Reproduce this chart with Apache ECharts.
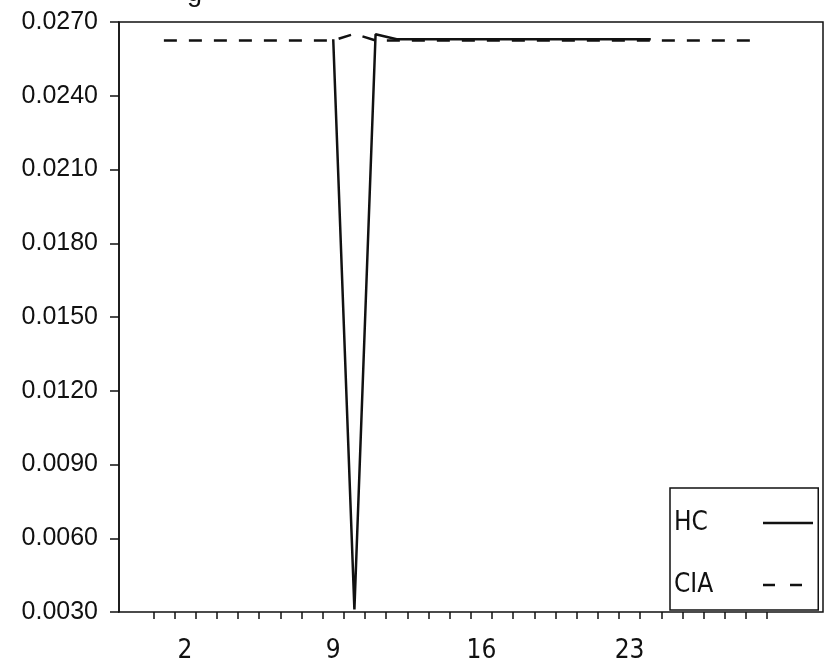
<!DOCTYPE html>
<html>
<head>
<meta charset="utf-8">
<script src="https://cdn.jsdelivr.net/npm/echarts@6/dist/echarts.min.js"></script>
<style>
  html, body { margin: 0; padding: 0; background: #fff; }
  #chart-container { width: 833px; height: 667px; }
</style>
</head>
<body>
<div id="chart-container"></div>
<script>
  // categories 1..29
  var categories = ['1', '2', '3', '4', '5', '6', '7', '8', '9', '10', '11', '12', '13', '14', '15',
    '16', '17', '18', '19', '20', '21', '22', '23', '24', '25', '26', '27', '28', '29'];

  var hcValues = [null, null, null, null, null, null, null, null, 0.0263, 0.0031, 0.0265, 0.0263, 0.0263,
    0.0263, 0.0263, 0.0263, 0.0263, 0.0263, 0.0263, 0.0263, 0.0263, 0.0263, 0.0263, 0.0263,
    null, null, null, null, null];

  var ciaValues = [0.02625, 0.02625, 0.02625, 0.02625, 0.02625, 0.02625, 0.02625, 0.02625, 0.02625,
    0.02652, 0.02625, 0.02625, 0.02625, 0.02625, 0.02625, 0.02625, 0.02625, 0.02625, 0.02625,
    0.02625, 0.02625, 0.02625, 0.02625, 0.02625, 0.02625, 0.02625, 0.02625, 0.02625, 0.02625];

  var yMin = 0.0030, yMax = 0.0270, yStep = 0.0030;

  var narrow = "'Liberation Sans Narrow', 'DejaVu Sans Condensed', sans-serif";
  var ink = '#111';

  var dom = document.getElementById('chart-container');
  var myChart = echarts.init(dom, null, { renderer: 'canvas' });

  var option = {
    animation: false,
    backgroundColor: '#fff',
    title: {
      text: 'g',
      left: 182,
      top: -25,
      textStyle: { fontFamily: 'Liberation Sans', fontSize: 27, fontWeight: 'normal', color: ink }
    },
    grid: [
      // frame
      { left: 119, right: 10, top: 22, bottom: 55, show: true, borderColor: ink, borderWidth: 1.5 },
      // data area
      { left: 153.3, right: 65.8, top: 22, bottom: 55 }
    ],
    xAxis: [
      { gridIndex: 0, type: 'value', min: 0, max: 1, show: false },
      {
        gridIndex: 1,
        type: 'category',
        data: categories,
        boundaryGap: true,
        axisLine: { show: false },
        axisTick: {
          show: true, inside: false, length: 7, interval: 0,
          lineStyle: { color: ink, width: 1.5 }
        },
        axisLabel: {
          interval: function (index) { return (index - 1) % 7 === 0; },
          margin: 26,
          fontFamily: narrow,
          fontSize: 26,
          color: ink
        },
        splitLine: { show: false }
      }
    ],
    yAxis: [
      {
        gridIndex: 0,
        type: 'value',
        min: yMin,
        max: yMax,
        interval: yStep,
        axisLine: { show: true, lineStyle: { color: ink, width: 1.5 } },
        axisTick: { show: true, inside: false, length: 9, lineStyle: { color: ink, width: 1.5 } },
        axisLabel: {
          margin: 21,
          fontFamily: 'Liberation Sans',
          fontSize: 25,
          color: ink,
          formatter: function (v) { return v.toFixed(4); }
        },
        splitLine: { show: false }
      },
      { gridIndex: 1, type: 'value', min: yMin, max: yMax, show: false }
    ],
    legend: {
      orient: 'vertical',
      left: 670,
      top: 488,
      padding: [22, 4, 12, 4],
      itemGap: 36,
      itemWidth: 50,
      itemHeight: 20,
      align: 'right',
      borderColor: ink,
      borderWidth: 1.5,
      backgroundColor: '#fff',
      itemStyle: { opacity: 0 },
      formatter: function (name) { return '{n|' + name + '}'; },
      textStyle: {
        fontFamily: narrow, fontSize: 26, color: ink,
        rich: { n: { width: 84, align: 'left', fontFamily: narrow, fontSize: 26, color: ink, lineHeight: 24 } }
      },
      data: [
        { name: 'HC', lineStyle: { type: 'solid', width: 2.5 } },
        { name: 'CIA', lineStyle: { type: [12, 15], width: 2.5 } }
      ]
    },
    series: [
      {
        name: 'HC',
        type: 'line',
        xAxisIndex: 1,
        yAxisIndex: 1,
        data: hcValues,
        symbol: 'none',
        connectNulls: false,
        itemStyle: { color: ink },
        lineStyle: { color: ink, width: 2.5 }
      },
      {
        name: 'CIA',
        type: 'line',
        xAxisIndex: 1,
        yAxisIndex: 1,
        data: ciaValues,
        symbol: 'none',
        itemStyle: { color: ink },
        lineStyle: { color: ink, width: 2.5, type: [13, 12] }
      }
    ]
  };

  myChart.setOption(option);

  window.addEventListener('resize', function () {
    myChart.resize();
  });
</script>
</body>
</html>
